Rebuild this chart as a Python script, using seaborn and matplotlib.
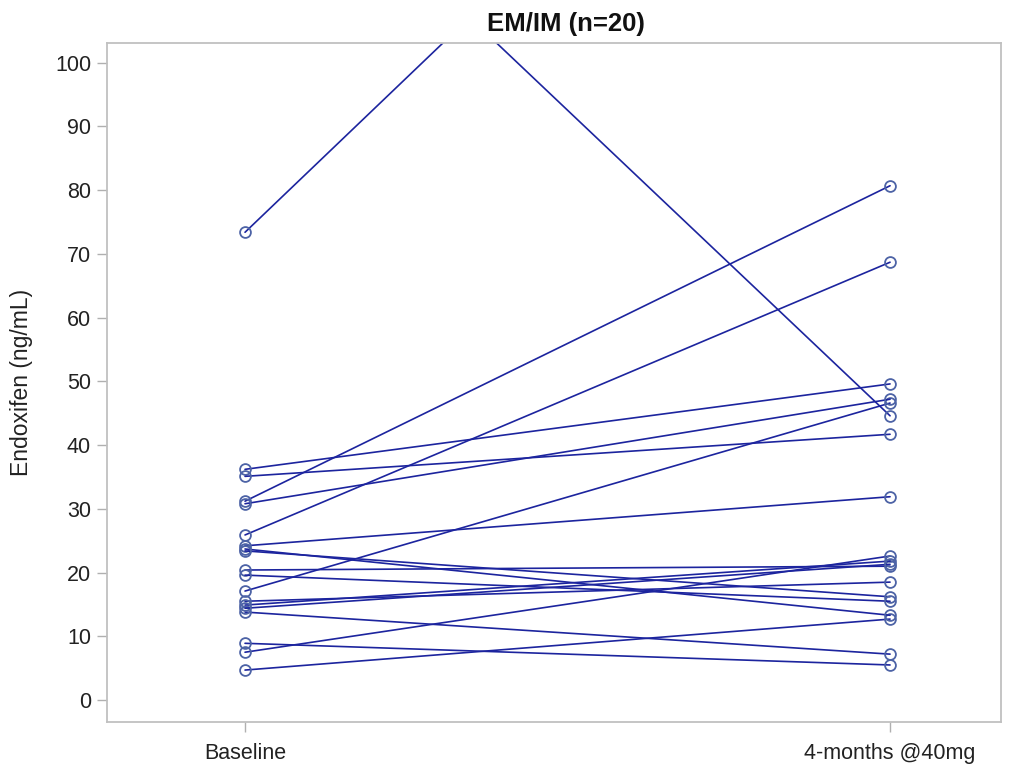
import numpy as np
import pandas as pd
import seaborn as sns
import matplotlib
matplotlib.use("Agg")
import matplotlib.pyplot as plt

# Endoxifen concentration (ng/mL) per patient, paired baseline -> 4 months
timepoints = ["Baseline", "4-months @40mg"]
baseline = [73.4, 140.5, 36.2, 35.1, 31.2, 25.9, 24.2, 17.1, 13.8, 8.9, 7.5, 4.7,
            30.8, 23.7, 23.4, 20.4, 19.6, 15.5, 14.9, 14.4]
month4 = [170.2, 44.6, 49.6, 41.7, 80.7, 68.7, 31.9, 46.6, 7.2, 5.5, 22.6, 12.7,
          47.2, 13.3, 16.2, 21.0, 15.5, 18.5, 21.8, 21.3]
patients = list(range(1, len(baseline) + 1))

df = pd.DataFrame({
    "patient": patients * 2,
    "time": [0] * len(baseline) + [1] * len(month4),
    "endoxifen": baseline + month4,
})

sns.set_theme(style="white")
plt.rcParams["font.family"] = ["Liberation Sans", "DejaVu Sans"]

fig = plt.figure(figsize=(10.18, 7.65), dpi=100)
ax = fig.add_axes([0.1051, 0.0562, 0.8782, 0.8876])

line_color = "#1c249e"
marker_edge = "#4d63a6"

sns.lineplot(data=df, x="time", y="endoxifen", units="patient", estimator=None,
             color=line_color, linewidth=1.2, marker="o", markersize=7.8,
             markerfacecolor="none", markeredgecolor=marker_edge,
             markeredgewidth=1.3, ax=ax, legend=False)

ax.set_xlim(-0.214, 1.172)
ax.set_ylim(-3.45, 103.1)
ax.set_xticks([0, 1])
ax.set_xticklabels(timepoints)
ax.set_yticks(np.arange(0, 101, 10))
ax.set_xlabel("")
ax.set_ylabel("Endoxifen (ng/mL)", fontsize=16.5, color="#222222", labelpad=16)

for s in ax.spines.values():
    s.set_visible(True)
    s.set_color("#c0c0c0")
    s.set_linewidth(1.3)

ax.tick_params(axis="both", which="major", bottom=True, left=True,
               length=7.5, width=1, color="#b0b0b0",
               labelsize=15.5, labelcolor="#222222", direction="out")
ax.tick_params(axis="x", pad=7.5)
ax.tick_params(axis="y", pad=4)
ax.grid(False)

fig.text(0.556, 0.969, "EM/IM (n=20)", ha="center", va="center",
         fontsize=18.5, fontweight="bold", color="#111111")

fig.savefig("out.png", dpi=100, facecolor="white")
